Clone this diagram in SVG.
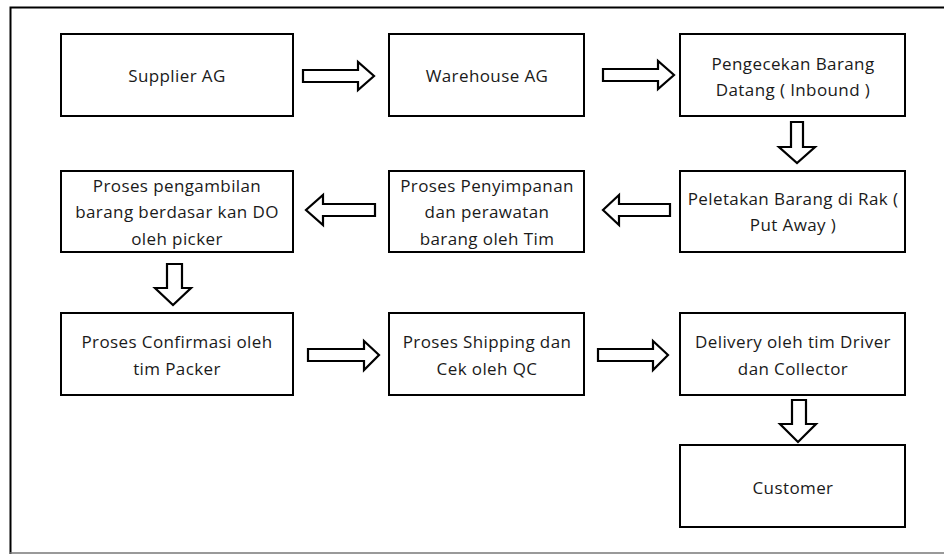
<svg xmlns="http://www.w3.org/2000/svg" width="944" height="554" viewBox="0 0 944 554">
<style>
.box{fill:#fff;stroke:#000;stroke-width:2}
.arr{fill:#fff;stroke:#000;stroke-width:2.2;stroke-linejoin:miter}
text{font-family:"Open Sans","Noto Sans",sans-serif;font-size:17px;letter-spacing:0.4px;fill:#1a1a1a;text-anchor:middle}
</style>
<rect x="0" y="0" width="944" height="554" fill="#fff"/>
<path d="M10.5,554 V7.5 H944" fill="none" stroke="#000" stroke-width="2"/>
<line x1="10" y1="553" x2="944" y2="553" stroke="#777" stroke-width="1.5"/>
<g id="n1"><rect class="box" x="61" y="34" width="232" height="82"/><text x="177" y="82">Supplier AG</text></g>
<g id="n2"><rect class="box" x="389" y="34" width="195" height="82"/><text x="487" y="82">Warehouse AG</text></g>
<g id="n3"><rect class="box" x="680" y="34" width="225" height="82"/><text x="793" y="70">Pengecekan Barang</text><text x="793" y="96">Datang ( Inbound )</text></g>
<g id="n4"><rect class="box" x="680" y="171" width="225" height="81"/><text x="793" y="205">Peletakan Barang di Rak (</text><text x="793" y="231">Put Away )</text></g>
<g id="n5"><rect class="box" x="389" y="171" width="195" height="81"/><text x="487" y="192">Proses Penyimpanan</text><text x="487" y="218">dan perawatan</text><text x="487" y="245">barang oleh Tim</text></g>
<g id="n6"><rect class="box" x="61" y="171" width="232" height="81"/><text x="177" y="192">Proses pengambilan</text><text x="177" y="218">barang berdasar kan DO</text><text x="177" y="245">oleh picker</text></g>
<g id="n7"><rect class="box" x="61" y="313" width="232" height="82"/><text x="177" y="348">Proses Confirmasi oleh</text><text x="177" y="375">tim Packer</text></g>
<g id="n8"><rect class="box" x="389" y="313" width="195" height="82"/><text x="487" y="348">Proses Shipping dan</text><text x="487" y="375">Cek oleh QC</text></g>
<g id="n9"><rect class="box" x="680" y="313" width="225" height="82"/><text x="793" y="348">Delivery oleh tim Driver</text><text x="793" y="375">dan Collector</text></g>
<g id="n10"><rect class="box" x="680" y="445" width="225" height="82"/><text x="793" y="494">Customer</text></g>
<g id="connectors">
<polygon class="arr" points="303,70 358,70 358,62 374,76 358,90 358,82 303,82"/>
<polygon class="arr" points="603,69 658,69 658,61 674,75 658,89 658,81 603,81"/>
<polygon class="arr" points="791,122 803,122 803,147 815,147 797,163 779,147 791,147"/>
<polygon class="arr" points="670,204 619,204 619,195 603,210 619,225 619,216 670,216"/>
<polygon class="arr" points="375,204 323,204 323,195 306,210 323,225 323,216 375,216"/>
<polygon class="arr" points="167,264 182,264 182,288 191,288 173,305 155,288 167,288"/>
<polygon class="arr" points="308,349 364,349 364,341 379,355 364,370 364,361 308,361"/>
<polygon class="arr" points="598,349 653,349 653,341 668,355 653,370 653,361 598,361"/>
<polygon class="arr" points="792,400 806,400 806,424 816,424 798,442 780,424 792,424"/>
</g>
</svg>
